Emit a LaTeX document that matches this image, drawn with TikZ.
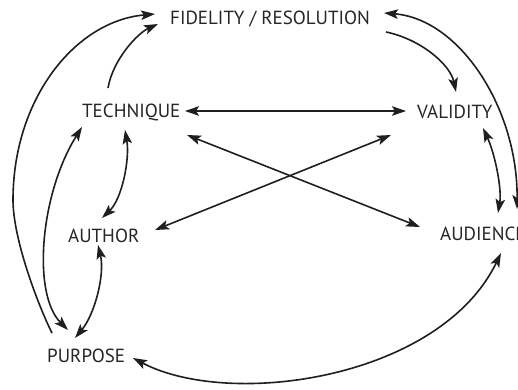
\documentclass[tikz,border=0pt]{standalone}
\usepackage{fontspec}
\setmainfont{PT Sans}
\usetikzlibrary{arrows.meta,calc}
\begin{document}
\begin{tikzpicture}[x=1pt,y=1pt,
  lbl/.style={font=\fontsize{19}{19}\selectfont, text=black!85, inner sep=0pt, anchor=base west},
  conn/.style={line width=1.6pt, draw=black!88},
  >={Stealth[length=14pt,width=9.5pt,inset=3pt]}]
\useasboundingbox (0,0) rectangle (518,389);
\clip (0,0) rectangle (518,389);
\fill[white] (0,0) rectangle (518,389);
\node[lbl] (fid) at (170,364) {FIDELITY / RESOLUTION};
\node[lbl] (tech) at (82,272) {TECHNIQUE};
\node[lbl] (val) at (417,271) {VALIDITY};
\node[lbl] (auth) at (68,147) {AUTHOR};
\node[lbl] (aud) at (440,149) {AUDIENCE};
\node[lbl] (purp) at (47,27) {PURPOSE};
% 1
\draw[conn,->] ($(purp.base west)+(5,29)$) .. controls (38,84) and (13,150) .. (13,189)
  .. controls (13,290) and (75,368) .. ($(fid.base west)+(-15,11)$);
% 2
\draw[conn,->] ($(tech.base west)+(26,29)$) .. controls (113,330) and (138,356) .. ($(fid.base west)+(-12,1)$);
% 3
\draw[conn,<->] ($(tech.base west)+(0,-10)$) .. controls (40,195) and (32,95) .. ($(purp.base west)+(21,32)$);
% 4
\draw[conn,<->] ($(tech.base west)+(43,-13)$) .. controls (130,230) and (122,190) .. ($(auth.base west)+(34,24)$);
% 5
\draw[conn,<->] ($(auth.base west)+(30,-3)$) .. controls (105,115) and (95,75) .. ($(purp.base west)+(28,24)$);
% 6
\draw[conn,<->] ($(tech.base west)+(103,6)$) -- ($(val.base west)+(-11,7)$);
% 7
\draw[conn,<->] ($(tech.base west)+(105,-18)$) -- ($(aud.base west)+(-20,13)$);
% 8
\draw[conn,<->] ($(auth.base west)+(87,12)$) -- ($(val.base west)+(-26,-17)$);
% 9
\draw[conn,->] ($(fid.base west)+(216,-7)$) .. controls (420,350) and (450,325) .. ($(val.base west)+(39,26)$);
% 10
\draw[conn,<->] ($(fid.base west)+(214,12)$) .. controls (460,370) and (518,280) .. ($(aud.base west)+(77,31)$);
% 11
\draw[conn,<->] ($(val.base west)+(66,-10)$) .. controls (495,235) and (502,200) .. ($(aud.base west)+(58,27)$);
% 12
\draw[conn,<->] ($(purp.base west)+(86,4)$) .. controls (230,-20) and (440,10) .. ($(aud.base west)+(61,-13)$);
\end{tikzpicture}
\end{document}
